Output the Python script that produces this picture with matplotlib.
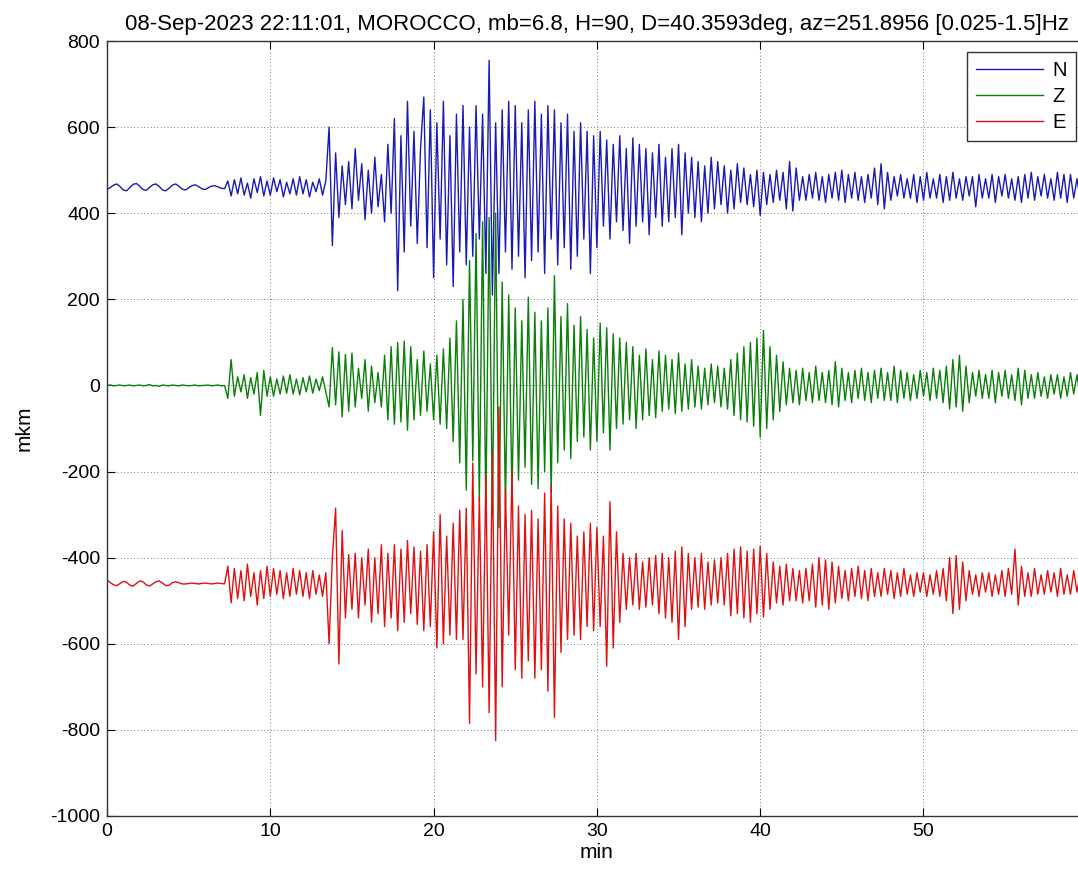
import numpy as np
import matplotlib
matplotlib.use("Agg")
import matplotlib.pyplot as plt

# ---------------- data ----------------
title_text = "08-Sep-2023 22:11:01, MOROCCO, mb=6.8, H=90, D=40.3593deg, az=251.8956 [0.025-1.5]Hz"
channels = ["N", "Z", "E"]
colors = ["#1a1ab4", "#0a7f0a", "#e01010"]
sample_step_min = 0.2
offsets = [460, 0, -460]        # trace baselines (mkm)

# deviations from baseline, 5 samples per minute (minute 0 ... minute 59)
n_dev = [
    -5, 0, 5, 8, 2,   -6, -8, 0, 7, 9,   3, -5, -7, 0, 6,   8, 2, -6, -8, -2,
    5, 8, 3, -4, -6,   -1, 4, 6, 2, -3,   -5, -1, 3, 4, 1,   -2, -3, 15, -20, 18,
    -15, 22, -18, 10, -25,   20, -12, 25, -20, 15,   -18, 22, -10, 18, -22,   12, -15, 20, -18, 25,
    -15, 18, -22, 12, -10,   20, -18, 15, 140, -135,   80, -70, 50, -40, 60,   -50, 90, -30, 55, -75,
    40, -60, 70, -45, 30,   -80, 100, -60, 160, -240,   120, -150, 200, -90, 130,   -130, 90, 210, -140, 180,
    -210, 150, -120, 200, -180,   120, -230, 170, -150, 190,   -180, 140, -160, 190, -120,   170, -200, 295, -250, 150,
    -200, 180, -150, 200, -190,   190, -160, 150, -210, 180,   -170, 200, -150, 170, -200,   190, -120, 180, -180, 150,
    -140, 170, -190, 130, -160,   150, -120, 130, -200, 120,   -140, 130, -90, 110, -120,   100, -80, 120, -100, 90,
    -130, 115, -90, 100, -80,   90, -110, 80, -70, 100,   -90, 70, -80, 90, -70,   100, -110, 80, -60, 70,
    -70, 60, -80, 50, -60,   70, -50, 60, -40, 50,   -60, 40, -50, 55, -35,   45, -40, 30, -45, 40,
    -65, 35, -40, 30, -35,   40, -30, 35, -50, 60,   -55, 45, -30, 25, -30,   30, -25, 35, -30, 25,
    -35, 30, -25, 35, -30,   40, -35, 30, -25, 35,   -30, 25, -35, 30, -25,   45, -40, 55, -50, 35,
    -30, 25, -20, 30, -25,   20, -25, 30, -35, 25,   -30, 35, -25, 20, -25,   30, -35, 25, -30, 35,
    -25, 20, -30, 25, -20,   25, -45, 30, -25, 20,   -25, 30, -35, 25, -20,   30, -25, 20, -30, 25,
    -35, 30, -25, 35, -30,   25, -20, 30, -25, 20,   -30, 35, -25, 30, -35,   30, -25, 20, -30, 25,
]
z_dev = [
    0, 1, -1, 0, 1,   -1, 0, 1, -1, 0,   1, -1, 0, 2, -1,   0, -2, 1, 0, -1,
    1, 0, -1, 1, 0,   -1, 0, 1, -1, 0,   0, 1, -1, 0, 1,   -1, 0, -30, 60, -25,
    20, -15, 25, -30, 18,   -20, 30, -70, 35, -25,   20, -25, 15, -20, 22,   -18, 25, -20, 15, -22,
    18, -15, 22, -18, 15,   -12, 20, -15, -50, 88,   -45, 78, -73, 72, -60,   75, -50, 40, -30, 60,
    -60, 45, -40, 30, -50,   70, -80, 90, -90, 100,   -85, 103, -104, 90, -80,   60, -70, 80, -60, 50,
    -80, 70, -90, 85, -100,   110, -130, 150, -180, 200,   -243, 290, -175, 353, -270,   380, -290, 390, -300, 400,
    -330, 240, -280, 210, -260,   180, -220, 150, -190, 205,   -230, 170, -240, 150, -200,   180, -250, 255, -180, 160,
    -150, 190, -170, 140, -130,   160, -120, 130, -150, 110,   -130, 145, -110, 134, -150,   120, -100, 110, -90, 100,
    -80, 90, -100, 70, -80,   85, -70, 60, -75, 80,   -60, 70, -55, 60, -65,   75, -60, 50, -55, 60,
    -50, 45, -55, 40, -45,   50, -40, 45, -50, 40,   -55, 60, -70, 75, -80,   90, -85, 100, -95, 110,
    -120, 128, -100, 90, -80,   70, -60, 55, -45, 40,   -40, 35, -45, 40, -35,   30, -40, 45, -35, 30,
    -40, 35, -45, 55, -50,   40, -35, 30, -40, 35,   -30, 40, -35, 30, -40,   35, -30, 40, -35, 30,
    -35, 45, -40, 35, -30,   30, -35, 25, -30, 35,   -25, 30, -35, 40, -30,   35, -40, 45, -55, 60,
    -50, 70, -60, 45, -40,   30, -25, 35, -30, 25,   -30, 35, -40, 30, -25,   35, -30, 25, -35, 40,
    -45, 35, -30, 25, -30,   30, -25, 20, -30, 25,   -20, 25, -30, 20, -25,   30, -20, 25, -30, 20,
]
e_dev = [
    8, 2, -3, -5, 0,   5, 3, -4, -6, 0,   6, 4, -3, -6, -1,   4, 6, 1, -5, -4,
    2, 4, 2, -1, -1,   0, 1, 0, -1, 0,   1, 0, -1, 0, 1,   0, -1, 40, -45, 35,
    -35, 30, -40, 45, -30,   25, -50, 30, -35, 40,   -30, 35, -25, 30, -35,   25, -30, 35, -25, 30,
    -30, 25, -35, 30, -25,   20, -30, 25, -140, 60,   175, -187, 123, -80, 67,   -60, 70, -80, 60, -50,
    80, -90, 60, -70, 90,   -100, 70, -80, 90, -110,   80, -90, 100, -70, 85,   -95, 75, -110, 90, -100,
    120, -150, 160, -140, 110,   -120, 140, -130, 170, -130,   175, -325, 280, -210, 200,   -240, 250, -300, 303, -365,
    410, -240, 220, -120, 260,   -200, 180, -220, 160, -180,   170, -220, 150, -200, 210,   -250, 228, -311, 180, -160,
    150, -130, 140, -120, 110,   -130, 120, -100, 140, -110,   130, -100, 110, -192, 190,   -150, 120, -90, 70, -60,
    60, -50, 70, -60, 50,   -55, 60, -50, 65, -70,   70, -80, 60, -90, 75,   -130, 85, -100, 70, -60,
    60, -55, 70, -60, 50,   -50, 55, -45, 60, -50,   70, -75, 80, -70, 85,   -80, 75, -90, 80, -70,
    87, -78, 70, -60, 50,   -45, 40, -50, 45, -40,   35, -40, 30, -45, 35,   -40, 45, -55, 60, -50,
    55, -60, 50, -45, 40,   -35, 30, -40, 35, -30,   40, -35, 30, -40, 35,   -30, 25, -30, 35, -25,
    30, -35, 25, -30, 35,   -25, 20, -30, 25, -20,   25, -30, 20, -25, 30,   -30, 35, -40, 60, -70,
    65, -60, 50, -40, 30,   -25, 20, -30, 25, -20,   25, -30, 20, -25, 30,   -30, 35, -25, 80, -50,
    40, -30, 25, -30, 35,   -25, 20, -25, 30, -20,   25, -30, 35, -25, 20,   -25, 30, -20, 25, -30,
]
x_ticks = [0, 10, 20, 30, 40, 50]
y_ticks = [-1000, -800, -600, -400, -200, 0, 200, 400, 600, 800]

# ---------------- figure ----------------
W, H = 1078, 873
plt.rcParams['font.family'] = ['Liberation Sans', 'DejaVu Sans']
plt.rcParams['axes.unicode_minus'] = False
fig = plt.figure(figsize=(W / 100, H / 100), dpi=100)

left_px, top_px, bottom_px = 107, 41, 816
px_per_min = 16.33
right_px = left_px + 60 * px_per_min
ax = fig.add_axes([left_px / W, 1 - bottom_px / H, (right_px - left_px) / W, (bottom_px - top_px) / H])

for name, col, off, dev in zip(channels, colors, offsets, [n_dev, z_dev, e_dev]):
    y = off + np.asarray(dev, dtype=float)
    t = np.arange(len(y)) * sample_step_min
    ax.plot(t, y, color=col, lw=1.0, label=name)

ax.set_xlim(0, 60)
ax.set_ylim(-1000, 800)
ax.set_xticks(x_ticks)
ax.set_yticks(y_ticks)
ax.tick_params(direction='in', length=6, width=0.8, labelsize=14, pad=5,
               top=True, right=True)
ax.grid(True, linestyle=(0, (1, 3)), color='black', linewidth=0.6, alpha=0.7)
for s in ax.spines.values():
    s.set_linewidth(1.0)
    s.set_color('#333333')

ax.set_xlabel("min", fontsize=15, labelpad=2)
ax.set_ylabel("mkm", fontsize=15, labelpad=12)
ax.set_title(title_text, fontsize=16, pad=8)

leg = ax.legend(loc='upper left', bbox_to_anchor=(967 / W, 1 - 52 / H),
                bbox_transform=fig.transFigure, borderaxespad=0,
                fancybox=False, edgecolor='#333333', framealpha=1,
                fontsize=14.5, handlelength=3.3, handletextpad=0.5,
                labelspacing=0.35, borderpad=0.45)
leg.get_frame().set_linewidth(1.0)

fig.savefig("out.png", dpi=100)
